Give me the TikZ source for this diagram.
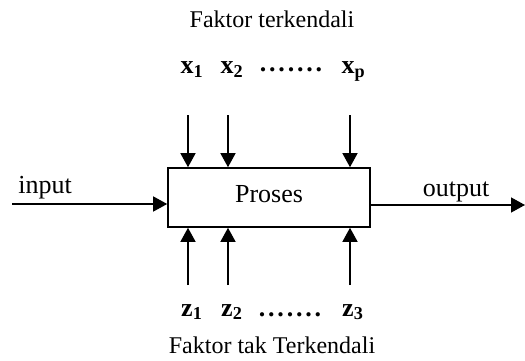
\documentclass[tikz,border=0pt]{standalone}
\usepackage{fontspec}
\setmainfont{Liberation Serif}
\usetikzlibrary{arrows.meta}
\tikzset{
  conn/.style={line width=1.4pt, -{Triangle[length=14pt,width=15pt]}},
  lbl/.style={inner sep=0pt, anchor=base, font=\fontsize{26}{30}\selectfont},
  ttl/.style={inner sep=0pt, anchor=base, font=\fontsize{24}{30}\selectfont},
  fac/.style={inner sep=0pt, anchor=base, font=\fontsize{26}{30}\selectfont\bfseries},
  procbox/.style={draw, line width=1.6pt, minimum width=202pt, minimum height=59pt,
    text height=18pt, text depth=9pt, inner sep=0pt, font=\fontsize{26}{30}\selectfont}
}
\begin{document}
\begin{tikzpicture}[x=1pt,y=-1pt]
\useasboundingbox (0,0) rectangle (525,361);
\node[procbox] (box) at (269,197.5) {Proses};
\node[ttl] (t) at (272,28) {Faktor terkendali};
\node[ttl] (b) at (272,353) {Faktor tak Terkendali};
\node[fac] (x1) at (187,74) {x\rlap{\textsubscript{1}}};
\node[fac] (x2) at (227,74) {x\rlap{\textsubscript{2}}};
\node[fac] (xd) at (291,72) {.\kern2.8pt.\kern2.8pt.\kern2.8pt.\kern2.8pt.\kern2.8pt.\kern2.8pt.};
\node[fac] (xp) at (348,74) {x\rlap{\textsubscript{p}}};
\node[fac] (z1) at (187,316) {z\rlap{\textsubscript{1}}};
\node[fac] (z2) at (227,316) {z\rlap{\textsubscript{2}}};
\node[fac] (zd) at (290,316) {.\kern2.8pt.\kern2.8pt.\kern2.8pt.\kern2.8pt.\kern2.8pt.\kern2.8pt.};
\node[fac] (z3) at (348,316) {z\rlap{\textsubscript{3}}};
\node[lbl] (in) at (45,193) {input};
\node[lbl] (out) at (456,196) {output};
\coordinate (ta) at (188,115);
\coordinate (tb) at (228,115);
\coordinate (tc) at (350,115);
\coordinate (ba) at (188,285);
\coordinate (bb) at (228,285);
\coordinate (bc) at (350,285);
\coordinate (ia) at (12,204);
\coordinate (oa) at (525,205);
\draw[conn] (ta) -- (ta |- box.north);
\draw[conn] (tb) -- (tb |- box.north);
\draw[conn] (tc) -- (tc |- box.north);
\draw[conn] (ba) -- (ba |- box.south);
\draw[conn] (bb) -- (bb |- box.south);
\draw[conn] (bc) -- (bc |- box.south);
\draw[conn] (ia) -- (ia -| box.west);
\draw[conn] (oa -| box.east) -- (oa);
\end{tikzpicture}
\end{document}
